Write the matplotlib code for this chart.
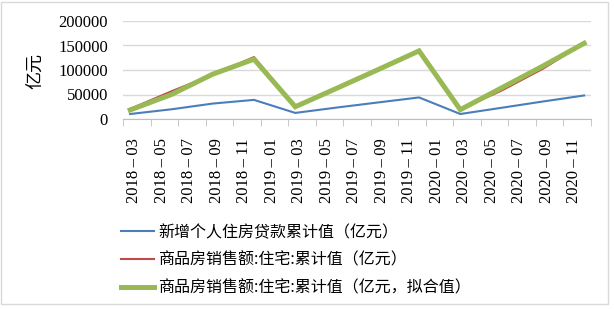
import matplotlib
matplotlib.use("Agg")
import matplotlib.pyplot as plt
from matplotlib.patches import Rectangle
from matplotlib.lines import Line2D
from matplotlib.transforms import ScaledTranslation
import numpy as np

# ---- data (quarterly cumulative values, 亿元) ----
dates = ['2018-03', '2018-06', '2018-09', '2018-12',
         '2019-03', '2019-06', '2019-09', '2019-12',
         '2020-03', '2020-06', '2020-09', '2020-12']
loans = [10200, 19800, 31500, 39000, 12400, 23300, 33700, 44000,
         10200, 22900, 35700, 48000]
sales = [20500, 56500, 90500, 126400, 25500, 62500, 100000, 139400,
         19500, 58000, 102500, 154600]
sales_fit = [18500, 50000, 91500, 122000, 25000, 62500, 100500, 139000,
             19000, 63500, 108000, 154500]

series_names = ['新增个人住房贷款累计值（亿元）',
                '商品房销售额:住宅:累计值（亿元）',
                '商品房销售额:住宅:累计值（亿元，拟合值）']
y_label = '亿元'
y_ticks = [0, 50000, 100000, 150000, 200000]

# month axis: 2018-03 .. 2020-12
all_months = []
for y in (2018, 2019, 2020):
    for m in range(1, 13):
        if y == 2018 and m < 3:
            continue
        all_months.append(f'{y}-{m:02d}')
tick_months = all_months[::2]  # 2018-03, 2018-05, ... 2020-11


def midx(s):
    y, m = s.split('-')
    return (int(y) - 2018) * 12 + int(m) - 3


x = np.array([midx(d) for d in dates])

plt.rcParams['font.family'] = ['Liberation Serif', 'Noto Sans CJK SC']

W, H = 614, 309
fig = plt.figure(figsize=(W / 100, H / 100), dpi=100)
ax = fig.add_axes([123.3 / W, 1 - 119 / H, (591 - 123.3) / W, (119 - 21) / H])

c_blue = '#4a7ebb'
c_red = '#be4b48'
c_green = '#98b954'

ax.plot(x, loans, color=c_blue, lw=1.5, zorder=3)
ax.plot(x, sales, color=c_red, lw=1.5, zorder=3)
ax.plot(x, sales_fit, color=c_green, lw=3.6, zorder=4, solid_joinstyle='miter')

ax.set_xlim(-0.5, len(all_months) - 0.5)
ax.set_ylim(0, 200000)
ax.set_yticks(y_ticks)
ax.set_yticklabels([str(v) for v in y_ticks], fontsize=12)
ax.yaxis.grid(True, color='#d9d9d9', lw=1)
ax.set_axisbelow(True)

ax.set_xticks([midx(t) for t in tick_months])
ax.set_xticklabels([t.replace('-', '\u2009\u2013\u2009') for t in tick_months],
                   rotation=90, fontsize=12, va='top', ha='center')
ax.set_xticks(np.arange(-0.5, len(all_months), 2), minor=True)
ax.tick_params(axis='x', which='major', length=0, pad=14)
ax.tick_params(axis='x', which='minor', length=5, color='#bfbfbf', direction='out')
ax.tick_params(axis='y', length=0, pad=11)
for lab in ax.get_xticklabels():
    lab.set_transform(lab.get_transform() + ScaledTranslation(0.04, 0, fig.dpi_scale_trans))

for s in ('left', 'right', 'top'):
    ax.spines[s].set_visible(False)
ax.spines['bottom'].set_color('#bfbfbf')

fig.text(35 / W, 1 - 71 / H, y_label, rotation=90, ha='center', va='center',
         fontsize=13, family=['Noto Sans CJK SC'])

handles = [Line2D([], [], color=c_blue, lw=1.5),
           Line2D([], [], color=c_red, lw=1.5),
           Line2D([], [], color=c_green, lw=3.6)]
leg = fig.legend(handles, series_names, loc='upper left',
                 bbox_to_anchor=(121 / W, 1 - 224 / H), frameon=False,
                 prop={'family': ['Noto Sans CJK SC'], 'size': 11.5},
                 handlelength=2.06, handletextpad=0.25, labelspacing=0.67,
                 borderaxespad=0, borderpad=0)

fig.patches.append(Rectangle((1 / W, 1 - 304 / H), 607 / W, 302 / H,
                             transform=fig.transFigure, fill=False,
                             ec='#d9d9d9', lw=1))

fig.savefig('out.png', dpi=100)
